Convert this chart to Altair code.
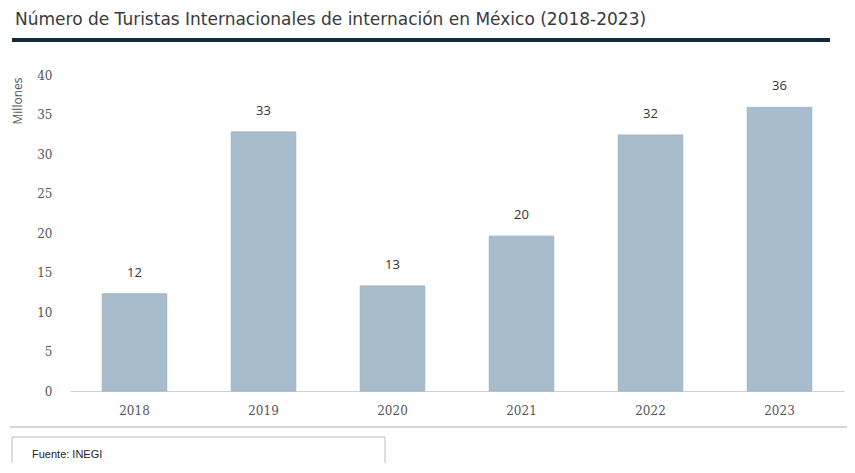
import altair as alt
import pandas as pd

years = ["2018", "2019", "2020", "2021", "2022", "2023"]
tourists = [12.3, 32.8, 13.3, 19.6, 32.4, 35.9]
y_ticks = [0, 5, 10, 15, 20, 25, 30, 35, 40]
title_text = "Número de Turistas Internacionales de internación en México (2018-2023)"
y_title = "Millones"
source_text = "Fuente: INEGI"

df = pd.DataFrame({"year": years, "value": tourists})
one = alt.Data(values=[{"k": 1}])

FONT = "Open Sans"
base = alt.Chart(df)

x_enc = alt.X("year:N", sort=years, title=None,
              scale=alt.Scale(paddingInner=0.5, paddingOuter=0.25),
              axis=alt.Axis(labelAngle=0, ticks=False, domainColor="#cfcfcf",
                            labelColor="#555555", labelFontSize=12, labelFont="DejaVu Serif",
                            labelPadding=14))
y_enc = alt.Y("value:Q", title=None,
              scale=alt.Scale(domain=[0, 40], nice=False),
              axis=alt.Axis(values=y_ticks, grid=False, ticks=False, domain=False,
                            labelOverlap=False,
                            labelColor="#555555", labelFontSize=12, labelFont="DejaVu Serif",
                            labelPadding=18))

bars = base.mark_bar(color="#a7bdcd", stroke="#9fb4c4", strokeWidth=1).encode(x=x_enc, y=y_enc)

labels = base.mark_text(dy=-14, baseline="bottom", fontSize=13, color="#333333", font=FONT).encode(
    x=x_enc, y=y_enc, text=alt.Text("value:Q", format=".0f"))

title = alt.Chart(one).mark_text(align="left", baseline="middle", fontSize=17, color="#3a3a3a",
                                 font="DejaVu Sans").encode(
    x=alt.value(-55), y=alt.value(-55), text=alt.value(title_text))

navy = alt.Chart(one).mark_rule(color="#0f2a3a", strokeWidth=4).encode(
    x=alt.value(-58), x2=alt.value(760), y=alt.value(-35))

ytitle = alt.Chart(one).mark_text(angle=270, align="center", baseline="middle", fontSize=12,
                                  color="#555555", font=FONT).encode(
    x=alt.value(-52), y=alt.value(26), text=alt.value(y_title))

sep = alt.Chart(one).mark_rule(color="#c8c8c8", strokeWidth=1.5).encode(
    x=alt.value(-60), x2=alt.value(780), y=alt.value(352))

box = alt.Chart(one).mark_rect(fill="white", stroke="#bbbbbb", strokeWidth=1).encode(
    x=alt.value(-58), x2=alt.value(315), y=alt.value(362), y2=alt.value(420))

src = alt.Chart(one).mark_text(align="left", baseline="middle", fontSize=11, color="#222222",
                               font="Liberation Sans").encode(
    x=alt.value(-38), y=alt.value(380), text=alt.value(source_text))

chart = alt.layer(bars, labels, title, navy, ytitle, sep, box, src).properties(
    width=774, height=316,
    autosize=alt.AutoSizeParams(type="none"),
    padding={"left": 62, "top": 67, "right": 3, "bottom": 72},
).configure_view(stroke=None)

chart.save("out.html", embed_options={"renderer": "svg", "actions": False})
